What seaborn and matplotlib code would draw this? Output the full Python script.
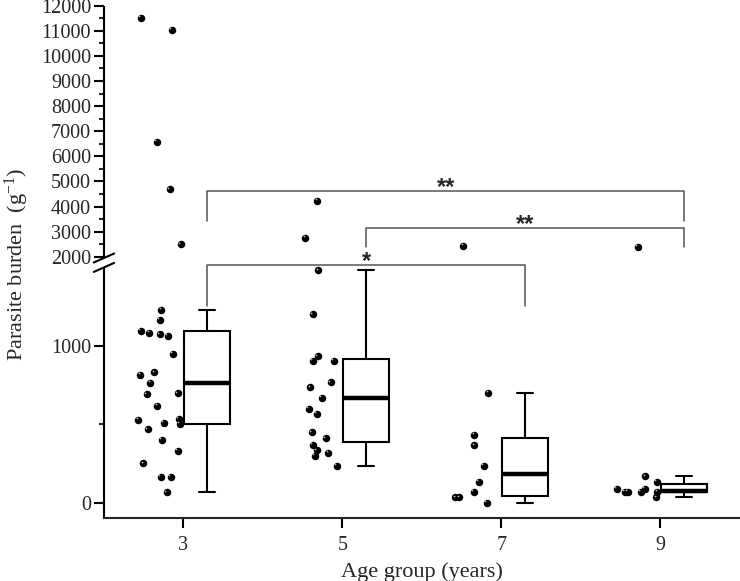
import numpy as np
import pandas as pd
import matplotlib
matplotlib.use("Agg")
import matplotlib.pyplot as plt
from matplotlib.transforms import ScaledTranslation
import seaborn as sns

# 연령대별 기생충 부담 값
ages = [3, 5, 7, 9]
burden_3 = [11509, 11043, 6587, 4688, 2495,
            1231, 1166, 1096, 1083, 1074, 1064, 949, 832, 817, 764, 698, 692,
            616, 533, 527, 510, 501, 467, 399, 333, 251, 166, 166, 66]
burden_5 = [4234, 2758, 1482, 1200, 934, 903, 903, 767, 735, 668, 600, 568,
            449, 411, 368, 335, 318, 299, 234]
burden_7 = [2427, 701, 431, 365, 234, 132, 68, 34, 34, 0]
burden_9 = [2387, 168, 132, 87, 87, 68, 68, 68, 68, 34]

y_major = [0, 1000, 2000, 3000, 4000, 5000, 6000, 7000, 8000, 9000,
           10000, 11000, 12000]
y_minor = [500, 2500, 3500, 4500, 5500, 6500, 7500, 8500, 9500,
           10500, 11500]

# 유의성 표시 (왼쪽 그룹, 오른쪽 그룹, 기호, 가로선 높이, 세로선 끝)
sig_left = [3, 5, 3]
sig_right = [9, 9, 7]
sig_text = ["**", "**", "*"]
sig_top = [4620, 3130, 1604]
sig_leg = [3440, 2375, 1255]

# 축 끊김 구간
BREAK_LO, BREAK_HI = 1500, 1950
Y_MIN, Y_MAX = -95, 12000


def load_data() -> pd.DataFrame:
    groups = {3: burden_3, 5: burden_5, 7: burden_7, 9: burden_9}
    rows = [(age, v) for age, vals in groups.items() for v in vals]
    df = pd.DataFrame(rows, columns=["age", "burden"])
    # 점은 왼쪽, 상자는 오른쪽으로 비켜 그림
    df["x_pts"] = df["age"] - 0.3
    df["x_box"] = df["age"] + 0.3
    return df


_kd = [-1e6, BREAK_LO, BREAK_HI, 1e6]
_ka = [-1e6, BREAK_LO, BREAK_LO + 60, BREAK_LO + 60 + (1e6 - BREAK_HI) * 0.16]


def fwd(y):
    return np.interp(y, _kd, _ka)


def inv(y):
    return np.interp(y, _ka, _kd)


def frac(y):
    return (fwd(y) - fwd(Y_MIN)) / (fwd(Y_MAX) - fwd(Y_MIN))


def main():
    df = load_data()

    sns.set_style("ticks")
    plt.rcParams["font.family"] = ["Liberation Serif", "DejaVu Serif"]
    plt.rcParams["mathtext.fontset"] = "custom"
    plt.rcParams["mathtext.rm"] = "Liberation Serif"
    plt.rcParams["mathtext.it"] = "Liberation Serif:italic"

    fig = plt.figure(figsize=(7.4, 5.81), dpi=100)
    ax = fig.add_axes([0.1405, 0.109, 0.8595, 0.8812])

    np.random.seed(7)
    sns.stripplot(data=df, x="x_pts", y="burden", native_scale=True,
                  orient="x", jitter=0.14, color="black", size=5.4,
                  linewidth=0, ax=ax, zorder=3)
    dot_colls = list(ax.collections)
    sns.boxplot(data=df, x="x_box", y="burden", native_scale=True,
                orient="x", width=0.29, showfliers=False, color="white",
                linecolor="black", linewidth=1.5, capwidths=0.2,
                medianprops={"linewidth": 3.2}, ax=ax)

    ax.set_yscale("function", functions=(fwd, inv))
    ax.set_ylim(Y_MIN, Y_MAX)
    ax.set_xlim(2, 10)

    # 구슬 느낌의 하이라이트
    shift = ScaledTranslation(-1.2 / 72, 1.2 / 72, fig.dpi_scale_trans)
    for coll in dot_colls:
        offs = coll.get_offsets()
        ax.scatter(offs[:, 0], offs[:, 1], s=1.6, color="#bdbdbd",
                   linewidth=0, zorder=4, transform=ax.transData + shift)

    ax.set_yticks(y_major)
    ax.set_yticks(y_minor, minor=True)
    ax.set_yticklabels([str(v) for v in y_major])
    ax.set_xticks(ages)
    ax.set_xticklabels([str(a) for a in ages])

    ax.tick_params(axis="both", which="major", length=7.2, width=1.5,
                   labelsize=14.5, color="black", pad=2)
    ax.tick_params(axis="y", which="minor", length=3.5, width=1.5)
    ax.tick_params(axis="x", pad=6)

    for s in ["top", "right", "left"]:
        ax.spines[s].set_visible(False)
    ax.spines["bottom"].set_linewidth(1.5)

    # 끊긴 y축
    trans = ax.get_yaxis_transform()
    ax.plot([0, 0], [Y_MIN, BREAK_LO], transform=trans, color="black",
            lw=1.5, clip_on=False, solid_capstyle="butt")
    ax.plot([0, 0], [BREAK_HI, Y_MAX], transform=trans, color="black",
            lw=1.5, clip_on=False, solid_capstyle="butt")
    for yb in (BREAK_LO, BREAK_HI):
        fy = frac(yb)
        ax.plot([-0.016, 0.016], [fy - 0.0088, fy + 0.0088],
                transform=ax.transAxes, color="black", lw=1.5, clip_on=False)

    # 유의성 괄호
    for a, b, t, top, leg in zip(sig_left, sig_right, sig_text, sig_top, sig_leg):
        xa, xb = a + 0.3, b + 0.3
        ax.plot([xa, xa, xb, xb], [leg, top, top, leg], color="#555555",
                lw=1.1, zorder=2)
        ax.annotate(t, xy=((xa + xb) / 2, top), xytext=(0, -2),
                    textcoords="offset points", ha="center", va="baseline",
                    fontsize=17, fontweight="bold",
                    family=["Liberation Sans", "DejaVu Sans"])

    ax.set_xlabel("Age group (years)", fontsize=16, labelpad=5)
    ax.set_ylabel("Parasite burden  (g$^{-1}$)", fontsize=16)
    ax.yaxis.set_label_coords(-0.114, 0.495)

    fig.savefig("out.png", dpi=100)
    plt.close(fig)


if __name__ == "__main__":
    main()
